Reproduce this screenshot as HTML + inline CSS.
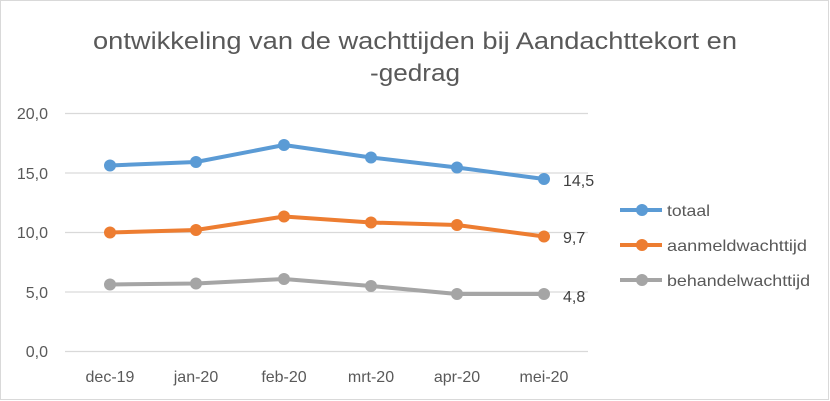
<!DOCTYPE html>
<html><head><style>html,body{margin:0;padding:0;background:#fff}svg{display:block}</style></head>
<body>
<svg width="830" height="401" xmlns="http://www.w3.org/2000/svg" font-family="Liberation Sans, sans-serif">
<rect x="0.5" y="0.5" width="828" height="399" fill="#fff" stroke="#d9d9d9"/>
<text x="415" y="49" font-size="24" fill="#595959" text-anchor="middle" textLength="644" lengthAdjust="spacingAndGlyphs">ontwikkeling van de wachttijden bij Aandachttekort en</text>
<text x="415" y="81" font-size="24" fill="#595959" text-anchor="middle" textLength="90" lengthAdjust="spacingAndGlyphs">-gedrag</text>
<g stroke="#d9d9d9" stroke-width="1.3">
<line x1="65" x2="588" y1="113.5" y2="113.5"/><line x1="65" x2="588" y1="173" y2="173"/><line x1="65" x2="588" y1="232.5" y2="232.5"/><line x1="65" x2="588" y1="292" y2="292"/><line x1="65" x2="588" y1="351.5" y2="351.5"/>
</g>
<g font-size="16" fill="#595959" text-anchor="end">
<text x="48" y="119">20,0</text><text x="48" y="179">15,0</text><text x="48" y="238">10,0</text><text x="48" y="298">5,0</text><text x="48" y="357">0,0</text>
</g>
<g font-size="16" fill="#595959" text-anchor="middle">
<text x="110" y="382">dec-19</text><text x="196" y="382">jan-20</text><text x="284" y="382">feb-20</text><text x="371" y="382">mrt-20</text><text x="457" y="382">apr-20</text><text x="544" y="382">mei-20</text>
</g>
<g fill="none" stroke-width="4" stroke-linejoin="round">
<polyline stroke="#5b9bd5" points="110,165.5 196,162 284,145 371,157.5 457,167.5 544,179"/>
<polyline stroke="#ed7d31" points="110,232.5 196,230 284,216.5 371,222.5 457,225 544,236.5"/>
<polyline stroke="#a5a5a5" points="110,284.5 196,283.5 284,279 371,286 457,294 544,294"/>
</g>
<g fill="#5b9bd5"><circle cx="110" cy="165.5" r="6"/><circle cx="196" cy="162" r="6"/><circle cx="284" cy="145" r="6"/><circle cx="371" cy="157.5" r="6"/><circle cx="457" cy="167.5" r="6"/><circle cx="544" cy="179" r="6"/></g>
<g fill="#ed7d31"><circle cx="110" cy="232.5" r="6"/><circle cx="196" cy="230" r="6"/><circle cx="284" cy="216.5" r="6"/><circle cx="371" cy="222.5" r="6"/><circle cx="457" cy="225" r="6"/><circle cx="544" cy="236.5" r="6"/></g>
<g fill="#a5a5a5"><circle cx="110" cy="284.5" r="6"/><circle cx="196" cy="283.5" r="6"/><circle cx="284" cy="279" r="6"/><circle cx="371" cy="286" r="6"/><circle cx="457" cy="294" r="6"/><circle cx="544" cy="294" r="6"/></g>
<g font-size="16" fill="#404040">
<text x="563" y="186">14,5</text><text x="563" y="243">9,7</text><text x="563" y="302">4,8</text>
</g>
<g stroke-width="4">
<line x1="620" x2="662" y1="210" y2="210" stroke="#5b9bd5"/><line x1="620" x2="662" y1="245" y2="245" stroke="#ed7d31"/><line x1="620" x2="662" y1="280" y2="280" stroke="#a5a5a5"/>
</g>
<circle cx="642" cy="210" r="6" fill="#5b9bd5"/><circle cx="642" cy="245" r="6" fill="#ed7d31"/><circle cx="642" cy="280" r="6" fill="#a5a5a5"/>
<g font-size="16" fill="#595959">
<text x="667" y="216" textLength="43" lengthAdjust="spacingAndGlyphs">totaal</text><text x="667" y="251" textLength="140" lengthAdjust="spacingAndGlyphs">aanmeldwachttijd</text><text x="667" y="286" textLength="143" lengthAdjust="spacingAndGlyphs">behandelwachttijd</text>
</g>
</svg>
</body></html>
